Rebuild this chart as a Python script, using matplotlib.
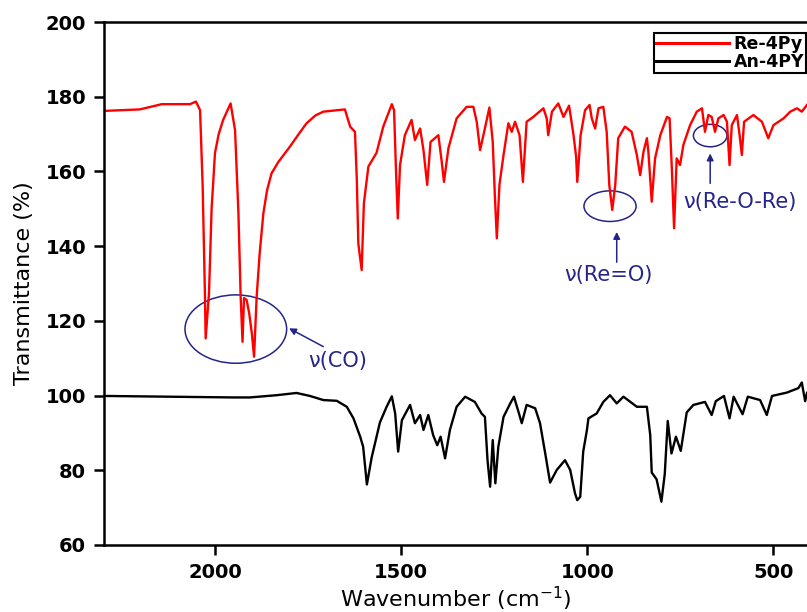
import numpy as np
import matplotlib
matplotlib.use("Agg")
import matplotlib.pyplot as plt
from matplotlib.patches import Ellipse

# Re-4Py spectrum (wavenumber cm-1, transmittance %)
re_wn = [2298, 2202, 2143, 2067, 2051, 2040, 2033, 2027, 2025, 2016, 2009, 2000,
         1990, 1978, 1958, 1946, 1937, 1931, 1926, 1922, 1915, 1908, 1901, 1895,
         1888, 1880, 1870, 1860, 1848, 1830, 1799, 1775, 1754, 1730, 1709, 1651,
         1637, 1624, 1619, 1615, 1606, 1600, 1588,
         1566, 1548, 1525, 1519, 1514, 1509, 1503, 1490, 1472, 1463, 1449, 1440,
         1430, 1421, 1400, 1391, 1385, 1373, 1351, 1324, 1306, 1297, 1288, 1279,
         1263, 1254, 1248, 1243, 1236, 1225, 1212, 1203, 1194, 1182, 1173, 1163,
         1145, 1118, 1109, 1105, 1095, 1078, 1064, 1049, 1037, 1030, 1027, 1018,
         1006, 994, 988, 979, 970, 957, 948, 941, 933, 925, 917, 899,
         881, 867, 858, 849, 840, 836, 827, 818, 804, 786, 779, 773,
         767, 760, 751, 742, 724, 706, 692, 684, 675, 666, 657, 648,
         634, 625, 618, 612, 598, 591, 585, 579, 554, 531, 514, 500,
         473, 455, 437, 424, 410]
re_t = [176.2, 176.6, 178.0, 178.0, 178.7, 176.4, 155.9, 127.4, 115.3, 127.4, 150.0, 164.9,
        170.0, 173.8, 178.2, 171.0, 148.9, 126.5, 114.4, 126.1, 125.6, 122.0, 116.7, 110.4,
        126.5, 138.0, 148.8, 155.0, 159.5, 162.5, 166.6, 170.0, 172.9, 175.0, 176.0, 176.6,
        172.0, 170.6, 157.7, 140.7, 133.6, 151.5, 161.3,
        165.0, 172.0, 178.0, 176.4, 160.8, 147.4, 161.7, 169.7, 173.8, 168.4, 171.5, 165.7,
        156.4, 167.9, 169.7, 162.6, 157.2, 166.2, 174.2, 177.3, 177.3, 173.3, 165.7, 169.7,
        177.1, 167.9, 152.8, 142.1, 156.4, 164.4, 172.9, 170.6, 173.3, 169.7, 157.2, 173.3,
        174.6, 176.9, 174.2, 169.7, 176.0, 178.2, 174.6, 177.6, 169.7, 163.9, 157.2, 169.7,
        176.4, 177.8, 174.2, 171.5, 176.9, 177.3, 170.6, 156.4, 149.7, 156.4, 168.9, 172.0,
        170.6, 164.4, 159.0, 165.3, 168.9, 165.3, 151.9, 163.5, 169.7, 174.6, 174.2, 160.8,
        144.8, 163.5, 161.7, 167.1, 172.4, 176.0, 176.9, 170.6, 175.1, 174.6, 170.6, 174.2,
        175.1, 173.3, 161.7, 172.4, 175.1, 169.7, 164.4, 173.3, 175.1, 173.3, 168.9, 172.4,
        174.2, 176.0, 176.9, 176.0, 177.8]

# An-4PY spectrum
an_wn = [2298, 1951, 1906, 1834, 1781, 1745, 1709, 1673, 1646, 1628, 1610, 1602,
         1592, 1579, 1557, 1539, 1525, 1516, 1508, 1498, 1476, 1463, 1449, 1440,
         1427, 1414, 1403, 1394, 1382, 1369, 1351, 1328, 1302, 1284, 1275, 1268,
         1261, 1254, 1247, 1239, 1225, 1207, 1197, 1185, 1176, 1163, 1140, 1127,
         1113, 1100, 1082, 1060, 1046, 1033, 1027, 1019, 1011, 1001, 997, 975,
         957, 939, 921, 903, 867, 840, 831, 827, 814, 801, 792, 784,
         774, 762, 749, 733, 715, 684, 666, 655, 633, 618, 607, 583,
         569, 536, 518, 504, 464, 433, 424, 415, 410]
an_t = [99.9, 99.5, 99.5, 100.1, 100.7, 99.9, 98.8, 98.6, 97.0, 93.9, 89.0, 86.3,
        76.2, 83.5, 92.8, 97.0, 99.8, 95.2, 85.0, 93.4, 97.5, 92.6, 94.8, 90.8,
        94.8, 89.4, 86.7, 89.0, 83.2, 90.8, 97.0, 99.7, 98.3, 95.2, 94.3, 82.7,
        75.6, 88.1, 76.5, 86.3, 94.3, 97.9, 99.7, 95.7, 92.6, 97.5, 96.6, 92.6,
        84.5, 76.7, 80.1, 82.7, 80.1, 73.8, 72.0, 72.9, 85.0, 90.8, 93.9, 95.2,
        98.3, 100.1, 97.9, 99.7, 97.0, 97.0, 89.4, 79.4, 77.6, 71.6, 79.0, 93.2,
        84.5, 89.0, 85.2, 95.5, 97.5, 98.3, 94.8, 98.5, 99.9, 93.9, 99.7, 95.0,
        99.7, 98.8, 94.8, 99.9, 100.8, 102.0, 103.5, 98.5, 100.7]

series_labels = ["Re-4Py", "An-4PY"]
x_ticks = [2000, 1500, 1000, 500]
y_ticks = [60, 80, 100, 120, 140, 160, 180, 200]

# band annotations: label, ellipse centre/size, arrow tail/head, text position
band_labels = ["\u03bd(CO)", "\u03bd(Re=O)", "\u03bd(Re-O-Re)"]
ell_xy = [(1944, 117.8), (939, 150.7), (670, 169.6)]
ell_wh = [(273, 18.3), (140, 8.2), (90, 6.0)]
arr_tail = [(1709, 113.1), (921, 135.7), (670, 156.8)]
arr_head = [(1801, 118.0), (921, 143.8), (670, 164.8)]
txt_xy = [(1670, 109.2), (943, 132.3), (590, 151.7)]

navy = "#24248a"

fig = plt.figure(figsize=(8.07, 6.12), dpi=100)
ax = fig.add_axes([104 / 807, 1 - 545 / 612, 703 / 807, 523 / 612])

ax.plot(re_wn, re_t, color="#ff0000", lw=1.7, label=series_labels[0])
ax.plot(an_wn, an_t, color="black", lw=1.7, label=series_labels[1])

for lab, c, wh, t0, t1, tp in zip(band_labels, ell_xy, ell_wh, arr_tail, arr_head, txt_xy):
    ax.add_patch(Ellipse(c, wh[0], wh[1], fill=False, edgecolor=navy, lw=1.1))
    ax.annotate("", xy=t1, xytext=t0,
                arrowprops=dict(arrowstyle="-|>", color=navy, lw=1.1,
                                mutation_scale=10, shrinkA=0, shrinkB=0))
    ax.text(tp[0], tp[1], lab, color=navy, fontsize=15, ha="center", va="center")

ax.set_xlim(2298, 410)
ax.set_ylim(60, 200)
ax.set_xticks(x_ticks)
ax.set_yticks(y_ticks)

for s in ["left", "bottom", "top"]:
    ax.spines[s].set_linewidth(1.8)
ax.spines["right"].set_visible(False)
ax.tick_params(direction="out", length=7, width=1.8, pad=6, labelsize=14)
for lab in ax.get_xticklabels() + ax.get_yticklabels():
    lab.set_fontweight("bold")

ax.set_xlabel("Wavenumber (cm$^{-1}$)", fontsize=16, labelpad=2)
ax.set_ylabel("Transmittance (%)", fontsize=16, labelpad=8)

leg = ax.legend(loc="upper right", bbox_to_anchor=(0.999, 0.979), borderaxespad=0,
                fancybox=False, edgecolor="black", framealpha=1,
                prop={"weight": "bold", "size": 12.5}, handlelength=4.2,
                handletextpad=0.3, labelspacing=0.0, borderpad=0.12)
leg.get_frame().set_linewidth(1.5)
for line in leg.get_lines():
    line.set_linewidth(2.2)

fig.savefig("out.png", dpi=100)
